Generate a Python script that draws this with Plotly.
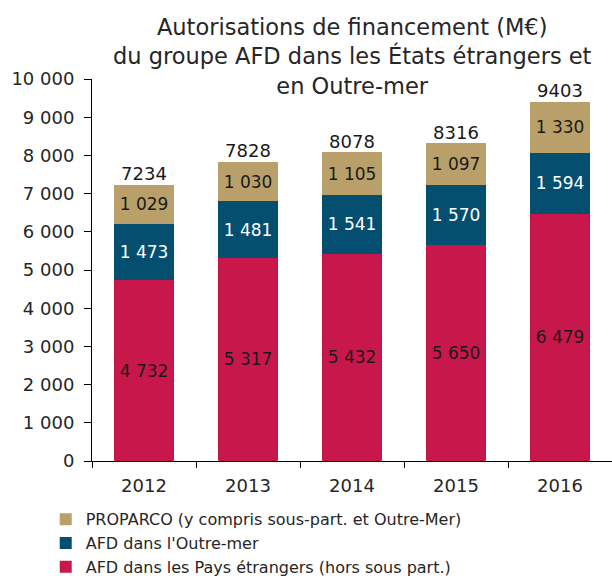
import plotly.graph_objects as go

years = ["2012", "2013", "2014", "2015", "2016"]
afd_etrangers = [4732, 5317, 5432, 5650, 6479]
afd_outremer = [1473, 1481, 1541, 1570, 1594]
proparco = [1029, 1030, 1105, 1097, 1330]
totals = [7234, 7828, 8078, 8316, 9403]

names = [
    "AFD dans les Pays étrangers (hors sous part.)",
    "AFD dans l'Outre-mer",
    "PROPARCO (y compris sous-part. et Outre-Mer)",
]
colors = ["#C8174B", "#044E70", "#B9A06A"]
text_colors = ["#1a1a1a", "#ffffff", "#1a1a1a"]
FONT = "DejaVu Sans"
title_text = "Autorisations de financement (M€)<br>du groupe AFD dans les États étrangers et<br>en Outre-mer"

def fmt(v):
    return f"{v:,}".replace(",", " ")

fig = go.Figure()
for vals, name, col, tcol in zip([afd_etrangers, afd_outremer, proparco], names, colors, text_colors):
    fig.add_trace(go.Bar(
        x=years, y=vals, name=name, marker=dict(color=col, line=dict(width=0)),
        text=[fmt(v) for v in vals], textposition="inside", insidetextanchor="middle",
        textangle=0, constraintext="none",
        insidetextfont=dict(family=FONT, size=17, color=tcol),
        hoverinfo="skip",
    ))

fig.add_trace(go.Scatter(
    x=years, y=totals, mode="text", text=[str(t) for t in totals],
    textposition="top center", textfont=dict(family=FONT, size=18, color="#1a1a1a"),
    showlegend=False, hoverinfo="skip", cliponaxis=False,
))

fig.add_annotation(
    text=title_text, xref="paper", yref="paper",
    x=(352 - 92) / 520, y=1 + (79 - 12) / 382, xanchor="center", yanchor="top",
    showarrow=False, align="center",
    font=dict(family=FONT, size=22.5, color="#262626"),
)

fig.update_layout(
    width=612, height=576,
    barmode="stack", bargap=0.42,
    plot_bgcolor="white", paper_bgcolor="white",
    separators=", ",
    margin=dict(l=92, r=0, t=79, b=115, autoexpand=False),
    font=dict(family=FONT, size=16, color="#262626"),
    legend=dict(
        x=-0.089, xanchor="left", y=-0.108, yanchor="top",
        traceorder="reversed", font=dict(family=FONT, size=16, color="#262626"),
        itemwidth=30, tracegroupgap=0, bgcolor="rgba(0,0,0,0)",
    ),
    showlegend=True,
    hovermode=False,
)
fig.update_yaxes(
    range=[0, 10000], dtick=1000, tickformat=",d", showgrid=False, zeroline=False,
    showline=True, linecolor="black", linewidth=1, ticks="outside", ticklen=7,
    tickcolor="black", tickfont=dict(family=FONT, size=18, color="#262626"),
    ticklabelstandoff=6,
)
fig.update_xaxes(
    showline=True, linecolor="black", linewidth=1, ticks="outside", ticklen=6,
    tickson="boundaries", tickcolor="black", showgrid=False,
    tickfont=dict(family=FONT, size=18, color="#262626"),
    ticklabelstandoff=8,
)

fig.write_html("out.html", config={"displayModeBar": False},
               post_script="document.body.style.margin='0';")
